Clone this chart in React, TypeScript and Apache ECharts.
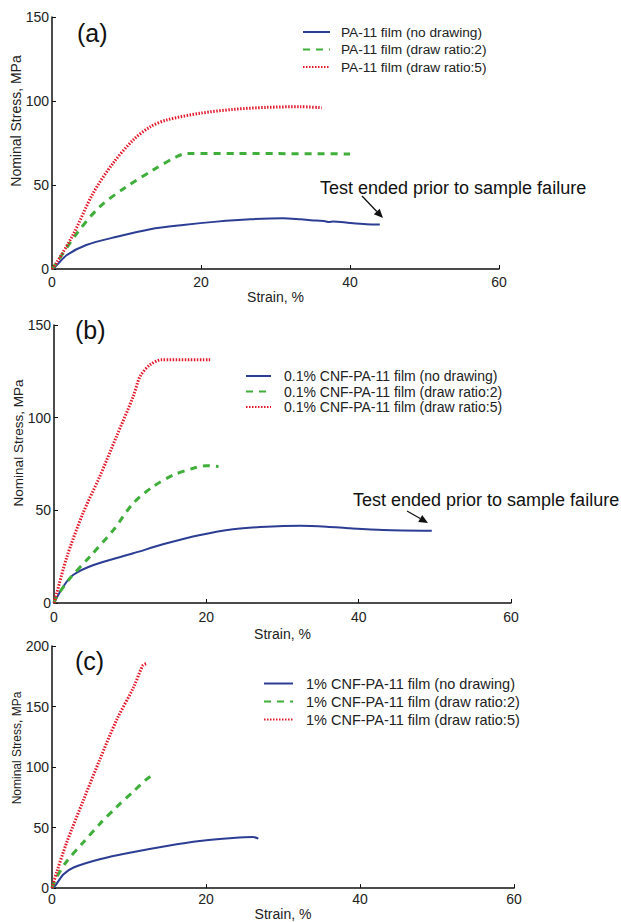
import React, { useEffect, useRef } from "react";
import * as echarts from "echarts";

// Panel (a): PA-11 film
const aNoDrawing = [[0,0],[0.4,1.2],[2,8.3],[4.6,14.3],[8.7,19.2],[13.2,23.7],[17.6,26.2],[22.1,28.2],[26.6,29.6],[31,30.2],[33.3,29.6],[35.5,28.8],[36.5,28.6],[37.2,28.0],[37.7,28.3],[40,27.4],[42.2,26.7],[44,26.5]];
const aRatio2 = [[0,0],[0.6,3.6],[3.3,21],[6.4,37],[10,49],[13.6,59],[16.7,66.8],[18.1,68.8],[25,68.8],[30,68.7],[35,68.6],[40,68.5]];
const aRatio5 = [[0,0],[0.6,3.6],[2.9,21],[5.5,45],[8.2,63],[10.9,76.8],[13.2,84.7],[15.4,88.7],[19.9,92.7],[24.3,95],[28.8,96.2],[33.3,96.6],[36.2,96]];

// Panel (b): 0.1% CNF-PA-11 film
const bNoDrawing = [[0,0],[1.2,8.8],[2.5,15.1],[5.2,20.5],[10.4,26.8],[14.8,32.2],[19.2,36.7],[23.5,39.8],[27.9,41.2],[32.3,41.7],[35.8,41.2],[38.9,40.3],[43.2,39.4],[49.6,39]];
const bRatio2 = [[0,0],[0.35,3.4],[2.1,13.3],[4.7,25],[7.8,39.4],[10.4,53.8],[13,62.8],[15.7,69.1],[18.3,72.7],[20,74.1],[21.6,73.6]];
const bRatio5 = [[0,0],[0.35,5.2],[1.7,25],[3.8,48.4],[6,68.2],[8.2,89.8],[10.4,111.4],[11.3,122.2],[12.6,128.5],[14.1,131.2],[20.5,131.2]];

// Panel (c): 1% CNF-PA-11 film
const cNoDrawing = [[0,0],[0.4,1.9],[1.5,11.4],[2.8,17],[6.2,23.8],[10.6,29.8],[14.9,34.8],[19.2,38.9],[23.5,41.4],[26.1,42.2],[26.8,40.8]];
const cRatio2 = [[0,0],[0.6,9],[1.9,22],[4.1,38],[6.2,53],[8.4,67],[10.6,80],[12.3,90],[13.4,95]];
const cRatio5 = [[0,0],[0.6,12.9],[1.9,37.5],[4.1,73],[6.2,106],[8.4,139],[10.6,166],[11.8,184],[12.3,185.5]];

const aNames = ["PA-11 film (no drawing)", "PA-11 film (draw ratio:2)", "PA-11 film (draw ratio:5)"];
const bNames = ["0.1% CNF-PA-11 film (no drawing)", "0.1% CNF-PA-11 film (draw ratio:2)", "0.1% CNF-PA-11 film (draw ratio:5)"];
const cNames = ["1% CNF-PA-11 film (no drawing)", "1% CNF-PA-11 film (draw ratio:2)", "1% CNF-PA-11 film (draw ratio:5)"];

const xTicks = { min: 0, max: 60, interval: 20 };
const yTicksAB = { min: 0, max: 150, interval: 50 };
const yTicksC = { min: 0, max: 200, interval: 50 };

const annotation = "Test ended prior to sample failure";
const yTitle = "Nominal Stress, MPa";
const xTitle = "Strain, %";

const FONT = "Liberation Sans, Arial, sans-serif";
const BLUE = "#2c3d94";
const GREEN = "#3fae3a";
const RED = "#e3192b";

export default function App() {
  const ref = useRef<HTMLDivElement>(null);
  useEffect(() => {
    document.body.style.margin = "0";
    const chart = echarts.init(ref.current!, null, { renderer: "svg" });

    const grids = [
      { left: 52, top: 17, width: 447, height: 252 },
      { left: 54, top: 325, width: 457, height: 278 },
      { left: 52, top: 646, width: 462, height: 243 },
    ];
    const nameGaps = [21, 24, 18];
    const labelMargins = [6, 7, 4];

    const xAxes = grids.map((_, i) => ({
      type: "value",
      gridIndex: i,
      ...xTicks,
      name: xTitle,
      nameLocation: "middle",
      nameGap: nameGaps[i],
      nameTextStyle: { fontFamily: FONT, fontSize: 14, color: "#222" },
      axisLine: { show: true, lineStyle: { color: "#111", width: 1.5 } },
      axisTick: { show: true, inside: true, length: 4, lineStyle: { color: "#111" } },
      axisLabel: { fontFamily: FONT, fontSize: 14, color: "#222", margin: labelMargins[i] },
      splitLine: { show: false },
    }));
    const yAxes = grids.map((_, i) => ({
      type: "value",
      gridIndex: i,
      ...(i === 2 ? yTicksC : yTicksAB),
      axisLine: { show: true, lineStyle: { color: "#111", width: 1.5 } },
      axisTick: { show: true, inside: true, length: 4, lineStyle: { color: "#111" } },
      axisLabel: { fontFamily: FONT, fontSize: 14, color: "#222", margin: 3 },
      splitLine: { show: false },
    }));

    const mk = (name: string, data: number[][], idx: number, kind: number) => ({
      name,
      type: "line",
      xAxisIndex: idx,
      yAxisIndex: idx,
      data,
      symbol: "none",
      smooth: 0.3,
      color: kind === 0 ? BLUE : kind === 1 ? GREEN : RED,
      lineStyle:
        kind === 0
          ? { width: 2, color: BLUE, type: "solid" }
          : kind === 1
          ? { width: 3, color: GREEN, type: [7, 6] }
          : { width: 3, color: RED, type: [1.5, 1.5] },
    });

    const series = [
      mk(aNames[0], aNoDrawing, 0, 0),
      mk(aNames[1], aRatio2, 0, 1),
      mk(aNames[2], aRatio5, 0, 2),
      mk(bNames[0], bNoDrawing, 1, 0),
      mk(bNames[1], bRatio2, 1, 1),
      mk(bNames[2], bRatio5, 1, 2),
      mk(cNames[0], cNoDrawing, 2, 0),
      mk(cNames[1], cRatio2, 2, 1),
      mk(cNames[2], cRatio5, 2, 2),
    ];

    const legendBase = {
      orient: "vertical",
      backgroundColor: "transparent",
      padding: 0,
      itemStyle: { opacity: 0 },
    };
    const legends = [
      { ...legendBase, data: aNames, left: 302, top: 25, itemWidth: 27, itemHeight: 14, itemGap: 3.5,
        textStyle: { fontFamily: FONT, fontSize: 13.7, color: "#222", padding: [0, 0, 0, 6] } },
      { ...legendBase, data: bNames, left: 245, top: 369, itemWidth: 25, itemHeight: 14, itemGap: 1.5,
        textStyle: { fontFamily: FONT, fontSize: 14, color: "#222", padding: [0, 0, 0, 8] } },
      { ...legendBase, data: cNames, left: 263, top: 676, itemWidth: 29, itemHeight: 12, itemGap: 3,
        textStyle: { fontFamily: FONT, fontSize: 14.5, color: "#222", padding: [0, 0, 0, 8] } },
    ];

    const arrow = (x1: number, y1: number, x2: number, y2: number) => {
      const dx = x2 - x1, dy = y2 - y1;
      const L = Math.sqrt(dx * dx + dy * dy);
      const ux = dx / L, uy = dy / L;
      const hl = 9, hw = 4;
      const bx = x2 - ux * hl, by = y2 - uy * hl;
      return [
        { type: "line", shape: { x1, y1, x2: bx, y2: by }, style: { stroke: "#111", lineWidth: 1.3 } },
        {
          type: "polygon",
          shape: { points: [[x2, y2], [bx - uy * hw, by + ux * hw], [bx + uy * hw, by - ux * hw]] },
          style: { fill: "#111" },
        },
      ];
    };

    const panelLabel = (text: string, x: number, y: number) => ({
      type: "text", x, y,
      style: { text, fontFamily: FONT, fontSize: 25, fill: "#111", textAlign: "left", textVerticalAlign: "middle" },
    });
    const yLabel = (x: number, y: number, size: number) => ({
      type: "text", x, y, rotation: Math.PI / 2,
      style: { text: yTitle, fontFamily: FONT, fontSize: size, fill: "#222", textAlign: "center", textVerticalAlign: "middle" },
    });

    const graphic = [
      panelLabel("(a)", 77, 33),
      panelLabel("(b)", 75, 330),
      panelLabel("(c)", 75, 661),
      yLabel(16, 121, 14),
      yLabel(18, 443, 13.5),
      yLabel(17, 748, 12),
      { type: "text", x: 320, y: 188,
        style: { text: annotation, fontFamily: FONT, fontSize: 18, fill: "#111", textAlign: "left", textVerticalAlign: "middle" } },
      ...arrow(362, 196, 383, 218),
      { type: "text", x: 353, y: 500,
        style: { text: annotation, fontFamily: FONT, fontSize: 18, fill: "#111", textAlign: "left", textVerticalAlign: "middle" } },
      ...arrow(407, 511, 428, 523),
    ];

    chart.setOption({
      animation: false,
      backgroundColor: "#fff",
      grid: grids,
      xAxis: xAxes,
      yAxis: yAxes,
      legend: legends,
      series,
      graphic,
    } as any);
    return () => chart.dispose();
  }, []);
  return <div ref={ref} style={{ width: 621, height: 922 }} />;
}
